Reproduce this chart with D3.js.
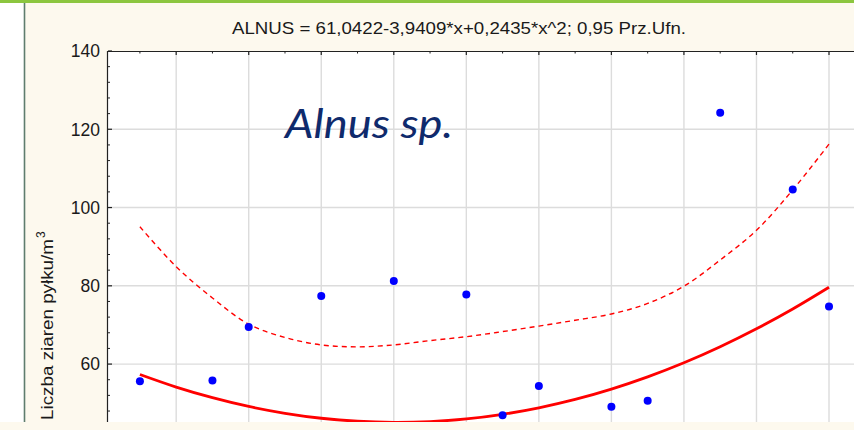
<!DOCTYPE html>
<html><head><meta charset="utf-8">
<script src="https://cdn.jsdelivr.net/npm/d3@7"></script>
<style>body{margin:0;background:#fff}svg{display:block}</style>
</head><body>
<script>
// Data
const xValues = [1, 3, 4, 6, 8, 10, 11, 12, 14, 15, 17, 19, 20];
const alnusCounts = [55.6, 55.8, 69.5, 77.4, 81.2, 77.8, 46.9, 54.4, 49.1, 50.6, 124.2, 104.6, 74.7];
const curveX = [1,2,3,4,5,6,7,8,9,10,11,12,13,14,15,16,17,18,19,20];
const fitValues = [57.34, 54.13, 51.41, 49.17, 47.43, 46.16, 45.39, 45.10, 45.30, 45.98, 47.16, 48.82, 50.96, 53.60, 56.72, 60.32, 64.42, 69.00, 74.07, 79.62];
const upperCI = [95.1, 84.9, 76.9, 70.2, 66.8, 64.9, 64.4, 64.9, 66.0, 67.0, 68.3, 69.7, 71.2, 72.8, 75.5, 79.9, 86.6, 94.2, 104.5, 116.2];
const yTicks = [60, 80, 100, 120, 140];
const yMinorTicks = [48, 52, 56, 64, 68, 72, 76, 84, 88, 92, 96, 104, 108, 112, 116, 124, 128, 132, 136];
const xGrid = [2, 4, 6, 8, 10, 12, 14, 16, 18, 20];
const xMinor = [1, 3, 5, 7, 9, 11, 13, 15, 17, 19, 21];
const titleText = "ALNUS = 61,0422-3,9409*x+0,2435*x^2; 0,95 Prz.Ufn.";
const speciesLabel = "Alnus sp.";
const yLabel = "Liczba ziaren pyłku/m";

const W = 854, H = 430;
const L = 108, T = 51, B = 422, R = 854;
const svg = d3.select("body").append("svg").attr("width", W).attr("height", H);

// background panels
svg.append("rect").attr("x", 0).attr("y", 0).attr("width", W).attr("height", H).attr("fill", "#ffffff");
svg.append("rect").attr("x", 24).attr("y", 0).attr("width", W - 24).attr("height", H).attr("fill", "#fdf9ee");
svg.append("rect").attr("x", 0).attr("y", 422).attr("width", W).attr("height", 8).attr("fill", "#fdf9ee");
svg.append("rect").attr("x", 0).attr("y", 0).attr("width", W).attr("height", 3).attr("fill", "#8cc63f");
svg.append("line").attr("x1", 24.5).attr("x2", 24.5).attr("y1", 3).attr("y2", 422)
  .attr("stroke", "#5f7d6e").attr("stroke-width", 1.6);

const x = d3.scaleLinear().domain([0.12, 20]).range([L, 829]);
const y = d3.scaleLinear().domain([45.2, 140]).range([B, T]);

svg.append("defs").append("clipPath").attr("id", "plot")
  .append("rect").attr("x", L).attr("y", T).attr("width", R - L).attr("height", B - T);

svg.append("rect").attr("x", L).attr("y", T).attr("width", R - L).attr("height", B - T).attr("fill", "#ffffff");

const g = svg.append("g").attr("clip-path", "url(#plot)");
// grid
g.selectAll(".vg").data(xGrid).join("line")
  .attr("x1", d => x(d)).attr("x2", d => x(d)).attr("y1", T).attr("y2", B)
  .attr("stroke", "#dcdcdc").attr("stroke-width", 1.4);
g.selectAll(".hg").data(yTicks.filter(d => d < 140)).join("line")
  .attr("x1", L).attr("x2", R).attr("y1", d => y(d)).attr("y2", d => y(d))
  .attr("stroke", "#dcdcdc").attr("stroke-width", 1.4);

// upper confidence band
const ciData = curveX.map((d, i) => [d, upperCI[i]]);
g.append("path").datum(ciData)
  .attr("d", d3.line().x(d => x(d[0])).y(d => y(d[1])).curve(d3.curveCatmullRom))
  .attr("fill", "none").attr("stroke", "#ff0000").attr("stroke-width", 1.4)
  .attr("stroke-dasharray", "5,4");

// fitted curve
const fitData = curveX.map((d, i) => [d, fitValues[i]]);
g.append("path").datum(fitData)
  .attr("d", d3.line().x(d => x(d[0])).y(d => y(d[1])).curve(d3.curveCatmullRom))
  .attr("fill", "none").attr("stroke", "#ff0000").attr("stroke-width", 2.8);

// points
g.selectAll(".pt").data(xValues.map((d, i) => [d, alnusCounts[i]])).join("circle")
  .attr("cx", d => x(d[0])).attr("cy", d => y(d[1])).attr("r", 4)
  .attr("fill", "#0000ff");

// axes lines
svg.append("line").attr("x1", L).attr("x2", R).attr("y1", T + 0.5).attr("y2", T + 0.5)
  .attr("stroke", "#222").attr("stroke-width", 1.2);
svg.append("line").attr("x1", L - 0.5).attr("x2", L - 0.5).attr("y1", T).attr("y2", B)
  .attr("stroke", "#222").attr("stroke-width", 1.2);

// ticks
svg.selectAll(".ytk").data(yTicks).join("line")
  .attr("x1", L).attr("x2", L + 4).attr("y1", d => y(d)).attr("y2", d => y(d))
  .attr("stroke", "#222").attr("stroke-width", 1.2);
svg.selectAll(".ymt").data(yMinorTicks).join("line")
  .attr("x1", L).attr("x2", L + 2).attr("y1", d => y(d)).attr("y2", d => y(d))
  .attr("stroke", "#222").attr("stroke-width", 1);
svg.selectAll(".xtk").data(xGrid).join("line")
  .attr("x1", d => x(d)).attr("x2", d => x(d)).attr("y1", T).attr("y2", T + 4)
  .attr("stroke", "#222").attr("stroke-width", 1.2);
svg.selectAll(".xmt").data(xMinor).join("line")
  .attr("x1", d => x(d)).attr("x2", d => x(d)).attr("y1", T).attr("y2", T + 2.5)
  .attr("stroke", "#222").attr("stroke-width", 1);

// tick labels
svg.selectAll(".ytl").data(yTicks).join("text")
  .attr("x", 100).attr("y", d => y(d)).attr("dy", "0.36em")
  .attr("text-anchor", "end").attr("font-family", "Liberation Sans, Arial, sans-serif")
  .attr("font-size", 17.5).attr("fill", "#1a1a1a").text(d => d);

// title
svg.append("text").attr("x", 232).attr("y", 34)
  .attr("font-family", "Liberation Sans, Arial, sans-serif").attr("font-size", 17)
  .attr("textLength", 454).attr("lengthAdjust", "spacingAndGlyphs")
  .attr("fill", "#1a1a1a").text(titleText);

// species label
svg.append("text").attr("x", 285).attr("y", 138)
  .attr("font-family", "Lato, 'Open Sans', sans-serif").attr("font-style", "italic")
  .attr("font-size", 41).attr("textLength", 168).attr("lengthAdjust", "spacingAndGlyphs")
  .attr("fill", "#0f2a6c").text(speciesLabel);

// y axis label
const yl = svg.append("text").attr("transform", "translate(53,420) rotate(-90)")
  .attr("font-family", "Liberation Sans, Arial, sans-serif").attr("font-size", 17)
  .attr("fill", "#1a1a1a");
yl.append("tspan").attr("textLength", 181).attr("lengthAdjust", "spacingAndGlyphs").text(yLabel);
yl.append("tspan").attr("font-size", 12).attr("dy", -8).attr("dx", 1).text("3");
</script>
</body></html>
